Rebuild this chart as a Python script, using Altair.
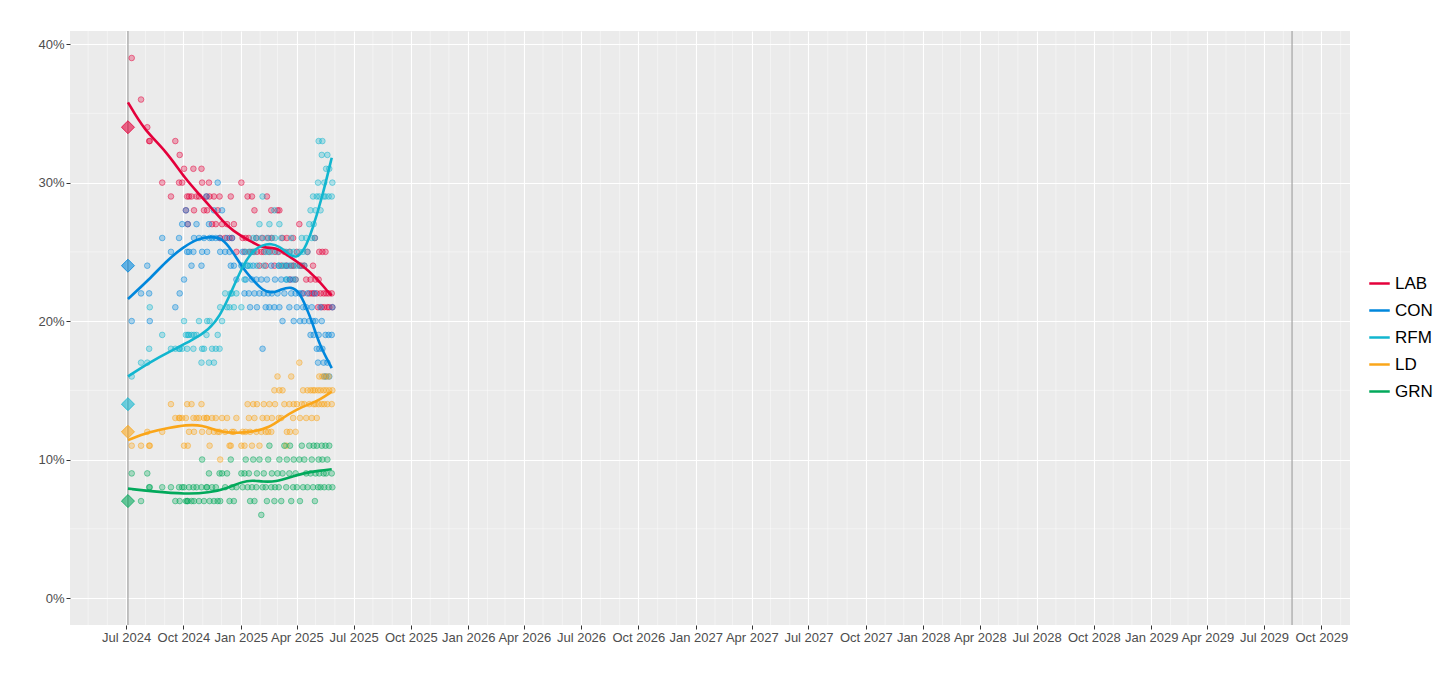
import altair as alt
import pandas as pd

# ---------------- data ----------------
parties = ["LAB", "CON", "RFM", "LD", "GRN"]
party_colors = ["#E4003B", "#0087DC", "#12B6CF", "#FAA61A", "#02A95B"]

election_date = "2024-07-04"
next_deadline = "2029-08-15"
result_values = [34, 24, 14, 12, 7]

poll_dates = [
    "2024-07-10", "2024-07-25", "2024-08-04", "2024-08-07", "2024-08-08", "2024-08-28",
    "2024-09-11", "2024-09-18", "2024-09-24", "2024-09-25", "2024-09-29", "2024-10-02",
    "2024-10-05", "2024-10-07", "2024-10-08", "2024-10-10", "2024-10-14", "2024-10-17",
    "2024-10-18", "2024-10-22", "2024-10-26", "2024-10-30", "2024-10-31", "2024-11-03",
    "2024-11-07", "2024-11-08", "2024-11-11", "2024-11-12", "2024-11-16", "2024-11-19",
    "2024-11-22", "2024-11-25", "2024-11-28", "2024-11-29", "2024-12-02", "2024-12-07",
    "2024-12-10", "2024-12-14", "2024-12-16", "2024-12-18", "2024-12-21", "2024-12-25",
    "2025-01-02", "2025-01-04", "2025-01-07", "2025-01-09", "2025-01-12", "2025-01-14",
    "2025-01-16", "2025-01-19", "2025-01-21", "2025-01-23", "2025-01-26", "2025-01-27",
    "2025-01-31", "2025-02-03", "2025-02-05", "2025-02-07", "2025-02-10", "2025-02-12",
    "2025-02-14", "2025-02-16", "2025-02-19", "2025-02-20", "2025-02-24", "2025-02-25",
    "2025-03-01", "2025-03-03", "2025-03-04", "2025-03-07", "2025-03-09", "2025-03-12",
    "2025-03-15", "2025-03-16", "2025-03-20", "2025-03-21", "2025-03-23", "2025-03-26",
    "2025-03-27", "2025-03-30", "2025-04-01", "2025-04-05", "2025-04-06", "2025-04-09",
    "2025-04-11", "2025-04-13", "2025-04-16", "2025-04-18", "2025-04-21", "2025-04-23",
    "2025-04-25", "2025-04-27", "2025-04-28", "2025-04-30", "2025-05-01", "2025-05-03",
    "2025-05-05", "2025-05-06", "2025-05-07", "2025-05-09", "2025-05-11", "2025-05-12",
    "2025-05-14", "2025-05-15", "2025-05-17", "2025-05-18", "2025-05-20", "2025-05-22",
    "2025-05-23", "2025-05-27", "2025-05-28",
]
poll_lab = [
    39, 36, 34, 33, 33, 30, 29, 33, 30, 32, 30, 31, 28, 29, 27, 29, 29, 31, 28, 29, 29, 31,
    30, 28, 29, 28, 30, 29, 27, 29, 27, 28, 29, 26, 27, 26, 27, 26, 29, 26, 27, 25, 30, 26,
    25, 26, 29, 26, 25, 29, 25, 28, 26, 25, 24, 25, 26, 25, 24, 29, 26, 25, 28, 26, 24, 25,
    28, 25, 28, 24, 26, 25, 24, 26, 25, 23, 24, 26, 24, 23, 25, 27, 24, 24, 22, 24, 23, 25,
    22, 23, 22, 24, 22, 26, 23, 22, 21, 23, 25, 22, 21, 25, 22, 21, 25, 22, 21, 22, 21, 22, 21,
]
poll_con = [
    20, 22, 24, 22, 20, 26, 25, 21, 26, 22, 27, 23, 28, 25, 27, 25, 24, 25, 26, 27, 26, 24,
    25, 26, 29, 25, 27, 26, 26, 28, 26, 30, 26, 25, 28, 25, 26, 25, 24, 26, 24, 23, 24, 25,
    22, 23, 24, 22, 21, 23, 24, 22, 23, 21, 22, 23, 18, 22, 21, 23, 22, 21, 24, 22, 21, 23,
    22, 24, 21, 23, 20, 22, 23, 24, 21, 23, 22, 23, 20, 22, 21, 22, 20, 22, 21, 20, 21, 22,
    20, 19, 21, 20, 19, 22, 20, 18, 17, 19, 18, 21, 20, 18, 17, 16, 19, 16, 17, 19, 16, 19, 21,
]
poll_rfm = [
    16, 17, 17, 18, 21, 19, 18, 18, 18, 18, 18, 20, 19, 18, 19, 19, 19, 18, 19, 19, 20, 17,
    18, 18, 19, 20, 17, 20, 18, 17, 18, 19, 18, 21, 20, 22, 21, 21, 22, 22, 21, 22, 21, 24,
    23, 25, 24, 25, 24, 25, 26, 25, 26, 24, 27, 26, 29, 24, 25, 26, 25, 27, 26, 25, 28, 26,
    25, 24, 27, 26, 24, 24, 25, 23, 24, 25, 26, 24, 25, 23, 24, 25, 24, 26, 25, 24, 26, 25,
    27, 28, 26, 29, 27, 26, 28, 29, 30, 33, 29, 28, 32, 33, 29, 30, 29, 31, 32, 29, 31, 29, 30,
]
poll_ld = [
    11, 11, 12, 11, 11, 12, 14, 13, 13, 13, 13, 11, 13, 14, 11, 12, 14, 13, 12, 13, 13, 14,
    12, 13, 13, 13, 12, 11, 13, 12, 13, 12, 12, 10, 13, 12, 13, 11, 11, 12, 12, 13, 11, 12,
    11, 12, 14, 13, 12, 11, 14, 13, 12, 14, 11, 12, 13, 14, 12, 13, 12, 14, 12, 13, 15, 14,
    16, 13, 15, 13, 15, 14, 11, 12, 14, 12, 16, 13, 14, 12, 14, 17, 13, 14, 15, 14, 13, 15,
    14, 15, 13, 15, 14, 15, 14, 13, 15, 14, 16, 15, 14, 16, 15, 14, 16, 15, 14, 16, 15, 14, 15,
]
poll_grn = [
    9, 7, 9, 8, 8, 8, 8, 7, 8, 7, 8, 8, 7, 7, 7, 8, 7, 8, 7, 8, 7, 8,
    10, 7, 8, 8, 9, 7, 8, 7, 8, 7, 9, 7, 9, 8, 9, 7, 10, 8, 7, 8, 9, 8,
    9, 10, 8, 9, 7, 8, 10, 7, 8, 9, 10, 6, 8, 9, 8, 7, 10, 11, 8, 9, 7, 8,
    9, 8, 10, 7, 9, 11, 8, 10, 9, 11, 7, 8, 10, 9, 8, 10, 7, 11, 8, 10, 9, 8,
    11, 9, 10, 8, 11, 7, 9, 11, 8, 10, 9, 8, 11, 10, 9, 8, 11, 9, 10, 8, 11, 9, 8,
]

trend_lab_dates = ["2024-07-04", "2024-07-30", "2024-09-03", "2024-10-05", "2024-10-26",
                   "2024-12-09", "2024-12-18", "2025-01-10", "2025-01-20", "2025-02-03",
                   "2025-02-11", "2025-02-27", "2025-03-15", "2025-04-05", "2025-05-03",
                   "2025-05-23", "2025-05-27"]
trend_lab = [35.8, 33.8, 32.3, 30.2, 29.2, 26.9, 26.6, 25.9, 25.7, 25.35, 25.3, 25.3,
             24.8, 24.2, 23.1, 22.0, 21.85]

trend_con_dates = ["2024-07-04", "2024-08-07", "2024-09-03", "2024-09-29", "2024-10-26",
                   "2024-11-16", "2024-12-02", "2024-12-18", "2025-01-03", "2025-01-20",
                   "2025-02-05", "2025-02-21", "2025-03-07", "2025-03-23", "2025-04-05",
                   "2025-04-16", "2025-04-26", "2025-05-07", "2025-05-27"]
trend_con = [21.6, 23.0, 24.3, 25.3, 26.0, 26.1, 26.0, 25.1, 23.9, 23.0, 22.2, 22.0,
             22.3, 22.5, 22.1, 21.0, 19.9, 18.3, 16.6]

trend_rfm_dates = ["2024-07-04", "2024-08-07", "2024-09-13", "2024-10-15", "2024-11-11",
                   "2024-11-28", "2024-12-18", "2025-01-03", "2025-01-20", "2025-02-05",
                   "2025-02-19", "2025-03-04", "2025-03-17", "2025-03-31", "2025-04-13",
                   "2025-04-26", "2025-05-12", "2025-05-27"]
trend_rfm = [16.0, 17.0, 17.9, 18.6, 19.4, 20.3, 22.2, 23.9, 25.1, 25.5, 25.6, 25.4,
             24.9, 24.5, 25.1, 26.6, 29.0, 31.8]

trend_ld_dates = ["2024-07-04", "2024-08-07", "2024-09-08", "2024-10-05", "2024-10-31",
                  "2024-11-28", "2024-12-25", "2025-01-20", "2025-02-16", "2025-03-09",
                  "2025-03-31", "2025-04-21", "2025-05-07", "2025-05-27"]
trend_ld = [11.4, 12.0, 12.3, 12.5, 12.5, 12.0, 11.9, 12.0, 12.3, 13.0, 13.6, 14.0,
            14.3, 14.9]

trend_grn_dates = ["2024-07-04", "2024-08-12", "2024-10-05", "2024-11-11", "2024-12-09",
                   "2025-01-03", "2025-01-20", "2025-02-05", "2025-02-27", "2025-03-20",
                   "2025-04-10", "2025-05-07", "2025-05-27"]
trend_grn = [7.9, 7.7, 7.5, 7.6, 7.9, 8.4, 8.5, 8.4, 8.4, 8.7, 9.0, 9.2, 9.3]

# axis tick positions
y_major = [0, 10, 20, 30, 40]
y_minor = [5, 15, 25, 35]
quarter_ticks = [(y, m) for y in range(2024, 2030) for m in (1, 4, 7, 10)
                 if (y, m) >= (2024, 7)]
minor_months = [f"{y}-{m:02d}-01" for y in range(2024, 2030) for m in range(1, 13)
                if (y, m) >= (2024, 5) and (y, m) <= (2029, 11) and m not in (1, 4, 7, 10)]

# ---------------- tables ----------------
poll_values = {"LAB": poll_lab, "CON": poll_con, "RFM": poll_rfm, "LD": poll_ld, "GRN": poll_grn}
polls = pd.concat(
    [pd.DataFrame({"date": poll_dates, "party": p, "value": poll_values[p]}) for p in parties],
    ignore_index=True,
)
trend_src = {
    "LAB": (trend_lab_dates, trend_lab), "CON": (trend_con_dates, trend_con),
    "RFM": (trend_rfm_dates, trend_rfm), "LD": (trend_ld_dates, trend_ld),
    "GRN": (trend_grn_dates, trend_grn),
}
trends = pd.concat(
    [pd.DataFrame({"date": d, "party": p, "value": v}) for p, (d, v) in trend_src.items()],
    ignore_index=True,
)
results = pd.DataFrame({"date": election_date, "party": parties, "value": result_values})
events = pd.DataFrame({"date": [election_date, next_deadline]})
minor_x = pd.DataFrame({"date": minor_months})
minor_y = pd.DataFrame({"value": y_minor})

# ---------------- scales / encodings ----------------
FONT = "Liberation Sans"
x_scale = alt.Scale(
    type="utc",
    domain=[alt.DateTime(year=2024, month=4, date=2, utc=True),
            alt.DateTime(year=2029, month=11, date=16, utc=True)],
)
y_scale = alt.Scale(domain=[-1.95, 40.95], nice=False, zero=False)
color_scale = alt.Scale(domain=parties, range=party_colors)
# same mapping, listed in reverse so the (hidden) fill/stroke legends are not merged
# into the colour legend of the trend lines
mark_scale = alt.Scale(domain=parties[::-1], range=party_colors[::-1])

x_axis = alt.Axis(
    values=[alt.DateTime(year=y, month=m, date=1, utc=True) for y, m in quarter_ticks],
    format="%b %Y", title=None, labelFontSize=13, labelColor="#4D4D4D", labelFont=FONT,
    tickColor="#333333", tickSize=4, tickWidth=1, domain=False, grid=True,
    gridColor="white", gridWidth=1.1, labelPadding=2, labelFlush=False, labelOverlap=False,
)
y_axis = alt.Axis(
    values=y_major, labelExpr="datum.value + '%'", title=None, labelFontSize=13,
    labelColor="#4D4D4D", labelFont=FONT, tickColor="#333333", tickSize=4, tickWidth=1,
    domain=False, grid=True, gridColor="white", gridWidth=1.1, labelPadding=2,
)

X = alt.X("date:T", scale=x_scale, axis=x_axis)
Y = alt.Y("value:Q", scale=y_scale, axis=y_axis)

minor_x_rules = alt.Chart(minor_x).mark_rule(color="white", strokeWidth=0.55, opacity=0.8).encode(x=X)
minor_y_rules = alt.Chart(minor_y).mark_rule(color="white", strokeWidth=0.55, opacity=0.8).encode(y=Y)
event_rules = alt.Chart(events).mark_rule(color="#A3A3A3", strokeWidth=1.2).encode(x=X)

points = alt.Chart(polls).mark_point(
    shape="circle", filled=True, size=32, opacity=1, fillOpacity=0.3,
    strokeOpacity=0.55, strokeWidth=0.9,
).encode(
    x=X, y=Y,
    fill=alt.Fill("party:N", scale=mark_scale, legend=None),
    stroke=alt.Stroke("party:N", scale=mark_scale, legend=None),
)

lines = alt.Chart(trends).mark_line(strokeWidth=2.6, interpolate="basis").encode(
    x=X, y=Y,
    color=alt.Color(
        "party:N", scale=color_scale,
        legend=alt.Legend(
            title=None, orient="none", legendX=1298, legendY=241,
            labelFontSize=17, labelColor="black", labelFont=FONT,
            symbolType="stroke", symbolStrokeWidth=2.5, symbolSize=420,
            rowPadding=7, labelOffset=4, padding=0,
        ),
    ),
)

diamonds = alt.Chart(results).mark_point(
    shape="diamond", filled=True, size=170, opacity=1, fillOpacity=0.6,
    strokeOpacity=0.8, strokeWidth=1,
).encode(
    x=X, y=Y,
    fill=alt.Fill("party:N", scale=mark_scale, legend=None),
    stroke=alt.Stroke("party:N", scale=mark_scale, legend=None),
)

chart = alt.layer(
    minor_x_rules, minor_y_rules, event_rules, points, lines, diamonds
).properties(
    width=1280, height=594,
    autosize=alt.AutoSizeParams(type="none"),
    padding={"left": 62, "top": 23, "right": 90, "bottom": 45},
).configure(
    font=FONT, background="white",
).configure_view(
    fill="#EBEBEB", strokeWidth=0, stroke=None,
)

chart.save("out.html", embed_options={"renderer": "svg", "actions": False})
